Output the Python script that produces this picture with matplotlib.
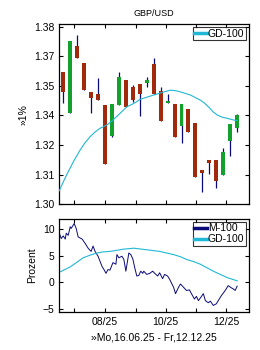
import numpy as np
import pandas as pd
import matplotlib
matplotlib.use("Agg")
import matplotlib.pyplot as plt
import matplotlib.dates as mdates

start = pd.Timestamp("2025-06-16")

# weekly candles (Fridays)
weeks = pd.date_range("2025-06-20", periods=26, freq="7D")
opens = [1.3597, 1.3412, 1.3714, 1.3638, 1.3507, 1.3496, 1.3447, 1.3308, 1.3448, 1.3560,
         1.3529, 1.3541, 1.3547, 1.3632, 1.3511, 1.3457, 1.3451, 1.3352, 1.3429, 1.3365,
         1.3153, 1.3198, 1.3198, 1.3131, 1.3286, 1.3344]
closes = [1.3507, 1.3737, 1.3660, 1.3514, 1.3480, 1.3469, 1.3180, 1.3451, 1.3572, 1.3436,
          1.3469, 1.3496, 1.3559, 1.3496, 1.3376, 1.3465, 1.3304, 1.3451, 1.3326, 1.3123,
          1.3141, 1.3186, 1.3104, 1.3233, 1.3361, 1.3401]
highs = [1.3597, 1.3737, 1.3763, 1.3638, 1.3507, 1.3567, 1.3447, 1.3451, 1.3594, 1.3560,
         1.3537, 1.3541, 1.3572, 1.3657, 1.3527, 1.3496, 1.3451, 1.3451, 1.3429, 1.3365,
         1.3153, 1.3198, 1.3198, 1.3254, 1.3361, 1.3406]
lows = [1.3454, 1.3412, 1.3660, 1.3514, 1.3412, 1.3469, 1.3180, 1.3301, 1.3448, 1.3436,
        1.3461, 1.3398, 1.3529, 1.3496, 1.3376, 1.3457, 1.3304, 1.3277, 1.3326, 1.3123,
        1.3055, 1.3134, 1.3073, 1.3131, 1.3218, 1.3326]

# GD-100 price line (day offset from start, value)
gd_days = [0, 4, 9, 15, 21, 26, 31, 36, 41, 48, 54, 61, 68, 74, 78, 81, 90, 98, 105, 112,
           118, 125, 132, 138, 142, 146, 151, 155, 159, 164, 169, 173, 177, 179]
gd_price = [1.3060, 1.3100, 1.3146, 1.3198, 1.3244, 1.3277, 1.3304, 1.3325, 1.3342, 1.3357,
            1.3379, 1.3409, 1.3439, 1.3452, 1.3462, 1.3472, 1.3485, 1.3496, 1.3506, 1.3514,
            1.3511, 1.3502, 1.3492, 1.3478, 1.3469, 1.3456, 1.3435, 1.3415, 1.3402, 1.3392,
            1.3387, 1.3382, 1.3378, 1.3377]

# M-100 momentum (percent)
m_days = [0, 2, 4, 6, 7, 9, 11, 12, 15, 17, 19, 23, 26, 29, 32, 34, 36, 39, 43, 45,
          47, 49, 51, 54, 57, 58, 60, 63, 65, 67, 70, 72, 74, 76, 78, 80, 82, 84, 85, 88,
          91, 94, 96, 99, 101, 104, 106, 109, 111, 115, 117, 120, 122, 125, 128, 131, 133, 136, 138, 140,
          142, 145, 147, 150, 152, 155, 158, 160, 163, 167, 170, 173, 175, 177, 179]
m_vals = [9.2, 8.2, 8.7, 8.1, 9.2, 8.8, 10.4, 10.1, 11.0, 10.1, 8.5, 8.1, 7.3, 6.4, 5.8, 6.8, 5.8, 4.9, 3.0, 2.4,
          1.7, 2.4, 2.3, 3.7, 3.4, 5.2, 4.6, 4.9, 4.3, 2.1, 5.5, 5.2, 4.4, 2.7, 1.2, 1.3, 2.1, 1.7, 2.1, 1.5,
          1.7, 2.1, 1.7, 1.2, 1.8, 0.7, 1.5, 1.2, 0.6, -0.9, -2.1, -0.9, -0.3, -0.9, -1.5, -1.4, -2.1, -3.1, -2.6, -3.4,
          -2.9, -2.1, -3.4, -3.8, -3.5, -4.3, -4.0, -3.4, -2.5, -1.5, -0.6, -1.0, -1.2, -1.5, -0.7]

# GD-100 percent line
gdp_days = [0, 11, 24, 31, 38, 44, 51, 58, 64, 75, 88, 101, 108, 115, 122, 128, 135, 142, 148, 155, 162, 169, 174, 179]
gdp_vals = [1.9, 2.9, 4.6, 5.1, 5.5, 5.7, 5.8, 6.0, 6.2, 6.4, 6.1, 5.8, 5.5, 5.2, 4.8, 4.3, 3.9, 3.4, 2.8, 2.1, 1.5, 0.9, 0.6, 0.3]

price_ticks = [1.30, 1.3133, 1.3267, 1.34, 1.3533, 1.3667, 1.38]
price_labels = ["1.30", "1.31", "1.32", "1.34", "1.35", "1.37", "1.38"]

RED = "#a12a0c"
GREEN = "#14a02c"
NAVY = "#0a0a78"
CYAN = "#20b8d4"

plt.rcParams["font.family"] = ["Liberation Sans", "DejaVu Sans"]
plt.rcParams["font.size"] = 7.5

fig = plt.figure(figsize=(2.6, 3.5), dpi=100)
ax1 = fig.add_axes([0.228, 0.417, 0.730, 0.514])
ax2 = fig.add_axes([0.228, 0.109, 0.730, 0.266])

def to_dates(days):
    return start + pd.to_timedelta(days, unit="D")

# candles
for d, o, h, l, c in zip(weeks, opens, highs, lows, closes):
    ax1.vlines(d, l, h, color=NAVY, lw=0.9, zorder=2)
    col = GREEN if c >= o else RED
    ax1.bar(d, abs(c - o), bottom=min(o, c), width=4, color=col, zorder=3)

ax1.plot(to_dates(gd_days), gd_price, color=CYAN, lw=0.8, zorder=4)
ax1.set_ylim(1.30, 1.3812)
ax1.set_yticks(price_ticks)
ax1.set_yticklabels(price_labels)
ax1.set_ylabel("»1%")
ax1.set_title("GBP/USD", fontsize=6.5, pad=6)
h1 = plt.Line2D([], [], color=CYAN, lw=2.5)
leg1 = ax1.legend([h1], ["GD-100"], loc="upper right", fontsize=7.5, frameon=True,
                  fancybox=False, edgecolor="black", handlelength=1.2, handletextpad=0.1,
                  borderpad=0.15, borderaxespad=0.3)
leg1.get_frame().set_linewidth(0.8)

ax2.plot(to_dates(m_days), m_vals, color=NAVY, lw=0.7)
ax2.plot(to_dates(gdp_days), gdp_vals, color=CYAN, lw=0.8)
ax2.set_ylim(-5.5, 11.9)
ax2.set_yticks([-5, 0, 5, 10])
ax2.set_ylabel("Prozent")
ax2.set_xlabel("»Mo,16.06.25 - Fr,12.12.25", labelpad=4)
h2 = plt.Line2D([], [], color=NAVY, lw=2.5)
h3 = plt.Line2D([], [], color=CYAN, lw=2.5)
leg2 = ax2.legend([h2, h3], ["M-100", "GD-100"], loc="upper right", fontsize=7.5, frameon=True,
                  fancybox=False, edgecolor="black", handlelength=1.2, handletextpad=0.1,
                  borderpad=0.15, borderaxespad=0.3, labelspacing=0.1)
leg2.get_frame().set_linewidth(0.8)

for ax in (ax1, ax2):
    ax.set_xlim(pd.Timestamp("2025-06-16"), pd.Timestamp("2025-12-24"))
    ax.xaxis.set_major_locator(mdates.MonthLocator(bymonth=[8, 10, 12]))
    ax.xaxis.set_minor_locator(mdates.MonthLocator(bymonth=[7, 9, 11]))
    ax.xaxis.set_major_formatter(mdates.DateFormatter("%m/%y"))
    ax.tick_params(which="both", direction="in", top=True, right=True, length=3, width=0.8)
    for s in ax.spines.values():
        s.set_linewidth(0.9)

ax1.tick_params(axis="x", which="both", labelbottom=False)

fig.savefig("out.png", dpi=100)
